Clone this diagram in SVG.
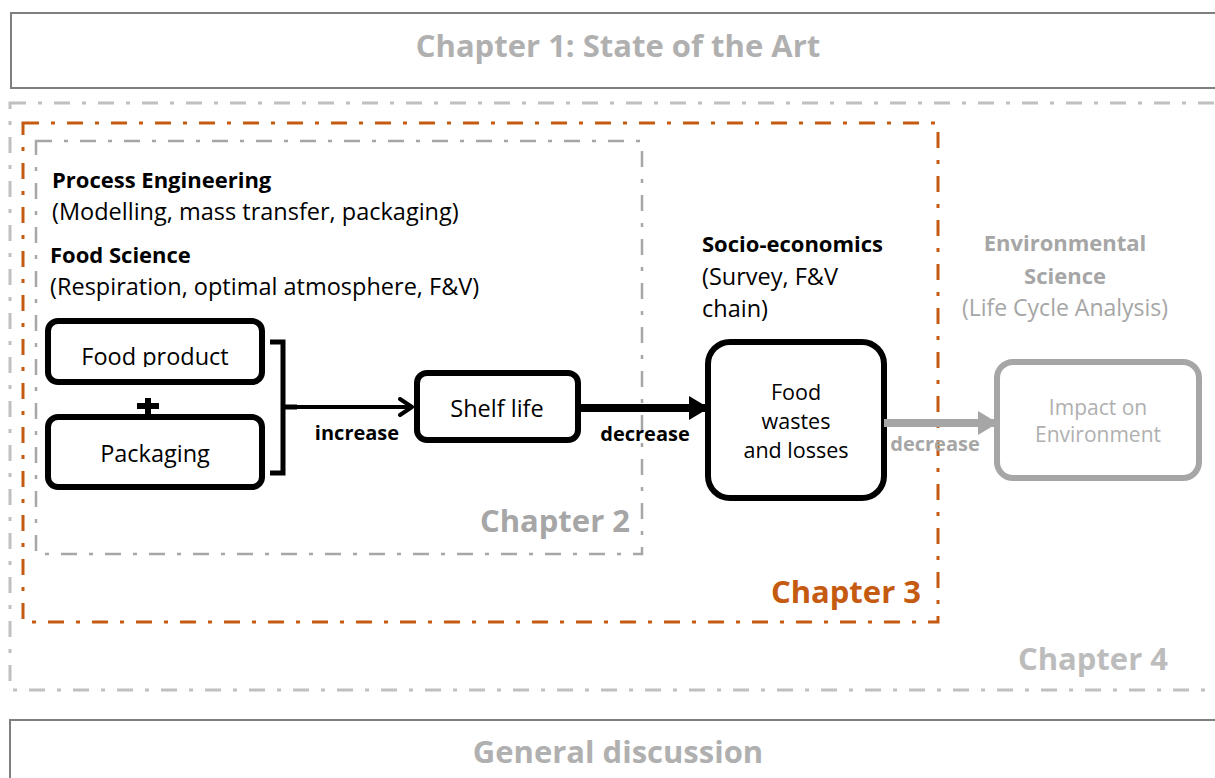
<svg xmlns="http://www.w3.org/2000/svg" width="1215" height="778" viewBox="0 0 1215 778">
<defs>
<style>
text{font-family:"Open Sans","Liberation Sans",sans-serif}
.b{font-weight:bold;font-size:22px}
.t{font-size:23.5px;fill:#000}
.ch{font-size:31px;font-weight:bold}
.lbl{font-size:20px;font-weight:bold}
.box{fill:#fff;stroke:#000;stroke-width:6}
.dd{fill:none;stroke-dasharray:16 12 4 12}
</style>
<clipPath id="fpclip"><rect x="48" y="321" width="214" height="46"/></clipPath>
<marker id="open" viewBox="0 0 16 20" refX="14" refY="10" markerWidth="16" markerHeight="20" markerUnits="userSpaceOnUse" orient="auto">
<path d="M2 2 L14 10 L2 18" fill="none" stroke="#000" stroke-width="4" stroke-linecap="round" stroke-linejoin="round"/>
</marker>
<marker id="solidB" viewBox="0 0 20 24" refX="19" refY="12" markerWidth="20" markerHeight="24" markerUnits="userSpaceOnUse" orient="auto">
<path d="M0 0 L20 12 L0 24 Z" fill="#000"/>
</marker>
<marker id="solidG" viewBox="0 0 20 24" refX="19" refY="12" markerWidth="20" markerHeight="24" markerUnits="userSpaceOnUse" orient="auto">
<path d="M0 0 L20 12 L0 24 Z" fill="#a6a6a6"/>
</marker>
</defs>
<rect width="1215" height="778" fill="#fff"/>

<g id="chapter1">
<rect x="11" y="13" width="1220" height="75" fill="#fff" stroke="#7f7f7f" stroke-width="2"/>
<text x="618" y="57" text-anchor="middle" class="ch" fill="#b0b0b0">Chapter 1: State of the Art</text>
</g>

<g id="chapter4">
<rect x="10" y="103" width="1220" height="587" class="dd" stroke="#c0c0c0" stroke-width="3"/>
<text x="1168" y="670" text-anchor="end" class="ch" fill="#bcbcbc">Chapter 4</text>
</g>

<g id="chapter3">
<rect x="23" y="123" width="915" height="499" class="dd" stroke="#c55a11" stroke-width="3"/>
<text x="921" y="603" text-anchor="end" class="ch" fill="#c55a11">Chapter 3</text>
</g>

<g id="chapter2">
<rect x="36" y="141" width="606" height="413" class="dd" stroke="#a6a6a6" stroke-width="2.5"/>
<text x="630" y="532" text-anchor="end" class="ch" fill="#a6a6a6">Chapter 2</text>
</g>

<g id="general">
<rect x="10" y="720" width="1220" height="70" fill="#fff" stroke="#7f7f7f" stroke-width="2"/>
<text x="618" y="763" text-anchor="middle" class="ch" fill="#b0b0b0">General discussion</text>
</g>

<g id="labels-ch2">
<text x="52" y="188" class="b">Process Engineering</text>
<text x="52" y="220" class="t">(Modelling, mass transfer, packaging)</text>
<text x="50" y="263" class="b">Food Science</text>
<text x="50" y="295" class="t">(Respiration, optimal atmosphere, F&amp;V)</text>
</g>

<g id="labels-socio">
<text x="702" y="252" class="b">Socio-economics</text>
<text x="702" y="285" class="t">(Survey, F&amp;V</text>
<text x="702" y="317" class="t">chain)</text>
</g>

<g id="labels-env" fill="#a6a6a6">
<text x="1065" y="251" text-anchor="middle" class="b">Environmental</text>
<text x="1065" y="284" text-anchor="middle" class="b">Science</text>
<text x="1065" y="316" text-anchor="middle" font-size="23">(Life Cycle Analysis)</text>
</g>

<g id="food-product">
<rect x="48" y="321" width="214" height="61" rx="10" class="box"/>
<text x="155" y="365" text-anchor="middle" class="t" clip-path="url(#fpclip)">Food product</text>
</g>

<g id="plus">
<path d="M137 406 H159 M148 398 V416" stroke="#000" stroke-width="6" fill="none"/>
</g>

<g id="packaging">
<rect x="48" y="417" width="214" height="70" rx="10" class="box"/>
<text x="155" y="462" text-anchor="middle" class="t">Packaging</text>
</g>

<g id="shelf-life">
<rect x="417" y="373" width="161" height="67" rx="10" class="box"/>
<text x="497" y="417" text-anchor="middle" class="t">Shelf life</text>
</g>

<g id="food-wastes">
<rect x="708" y="342" width="176" height="156" rx="22" class="box"/>
<text x="796" y="400" text-anchor="middle" font-size="21.5">Food</text>
<text x="796" y="429" text-anchor="middle" font-size="21.5">wastes</text>
<text x="796" y="458" text-anchor="middle" font-size="21.5">and losses</text>
</g>

<g id="impact">
<rect x="997" y="362" width="202" height="116" rx="16" fill="#fff" stroke="#a6a6a6" stroke-width="6"/>
<text x="1098" y="415" text-anchor="middle" font-size="21" fill="#b0b0b0">Impact on</text>
<text x="1098" y="442" text-anchor="middle" font-size="21" fill="#b0b0b0">Environment</text>
</g>

<g id="connectors">
<path d="M270 342 H283 V473 H270 M283 407 H297" fill="none" stroke="#000" stroke-width="5"/>
<line x1="290" y1="407" x2="412" y2="407" stroke="#000" stroke-width="4" marker-end="url(#open)"/>
<text x="357" y="440" text-anchor="middle" class="lbl">increase</text>
<line x1="578" y1="408" x2="708" y2="408" stroke="#000" stroke-width="8" marker-end="url(#solidB)"/>
<text x="645" y="441" text-anchor="middle" class="lbl">decrease</text>
<line x1="884" y1="423" x2="997" y2="423" stroke="#a6a6a6" stroke-width="8" marker-end="url(#solidG)"/>
<text x="935" y="451" text-anchor="middle" class="lbl" fill="#a6a6a6">decrease</text>
</g>
</svg>
